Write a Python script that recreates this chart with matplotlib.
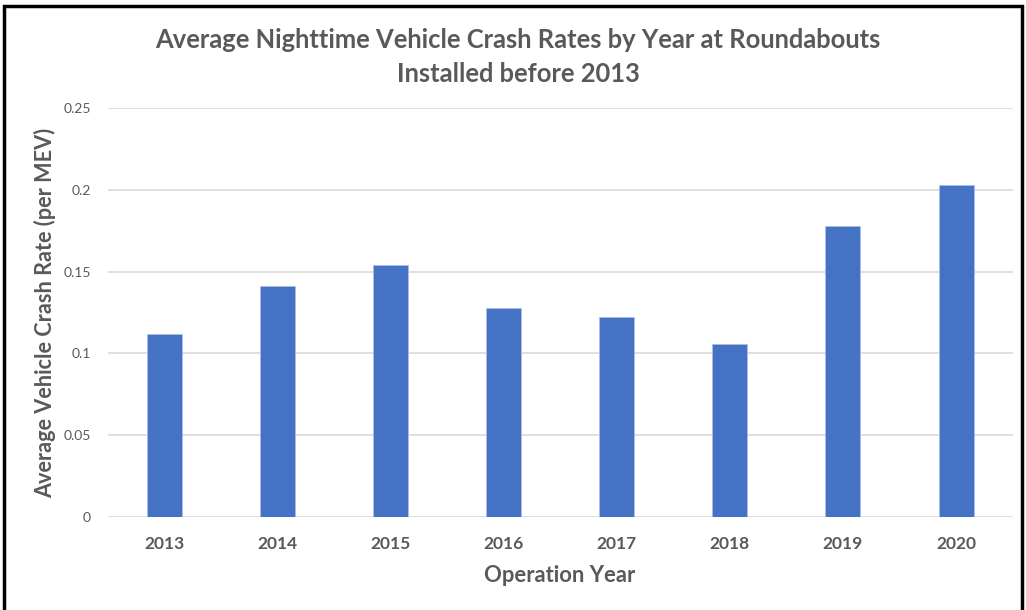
import matplotlib
matplotlib.use("Agg")
import matplotlib.pyplot as plt
from matplotlib.patches import Rectangle

years = ["2013", "2014", "2015", "2016", "2017", "2018", "2019", "2020"]
crash_rate = [0.112, 0.141, 0.154, 0.128, 0.122, 0.106, 0.178, 0.203]
y_ticks = [0, 0.05, 0.1, 0.15, 0.2, 0.25]
y_tick_labels = ["0", "0.05", "0.1", "0.15", "0.2", "0.25"]

gray = "#595959"
plt.rcParams['font.family'] = ['Lato', 'DejaVu Sans']

fig = plt.figure(figsize=(10.26, 6.10), dpi=100)
ax = fig.add_axes([0.1048, 0.1525, 0.8822, 0.6705])

ax.bar(range(len(years)), crash_rate, width=0.31, color="#4472C4",
       edgecolor="#A9BFE6", linewidth=0.6, zorder=3)

ax.set_xlim(-0.5, len(years) - 0.5)
ax.set_ylim(0, 0.25)
ax.set_yticks(y_ticks)
ax.set_yticklabels(y_tick_labels, fontsize=10, color=gray)
ax.set_xticks(range(len(years)))
ax.set_xticklabels(years, fontsize=12.5, fontweight="bold", color=gray)
ax.tick_params(axis="both", length=0)
ax.tick_params(axis="y", pad=12)
ax.tick_params(axis="x", pad=14)

ax.grid(axis="y", color="#D9D9D9", linewidth=1.2, zorder=0)
for s in ax.spines.values():
    s.set_visible(False)

ax.set_xlabel("Operation Year", fontsize=15.8, fontweight="bold", color=gray, labelpad=9)
ax.set_ylabel("Average Vehicle Crash Rate (per MEV)", fontsize=15.6, fontweight="bold",
              color=gray, va="center")
ax.yaxis.set_label_coords(-0.069, 0.5)

fig.text(0.505, 0.907, "Average Nighttime Vehicle Crash Rates by Year at Roundabouts\nInstalled before 2013",
         ha="center", va="center", fontsize=18.4, fontweight="bold", color=gray,
         linespacing=1.5)

# thin black frame around the whole picture
fig.patches.append(Rectangle((0.004, -0.01), 0.992, 1.0, transform=fig.transFigure,
                             fill=False, edgecolor="black", linewidth=2.5))

fig.savefig("out.png", dpi=100)
